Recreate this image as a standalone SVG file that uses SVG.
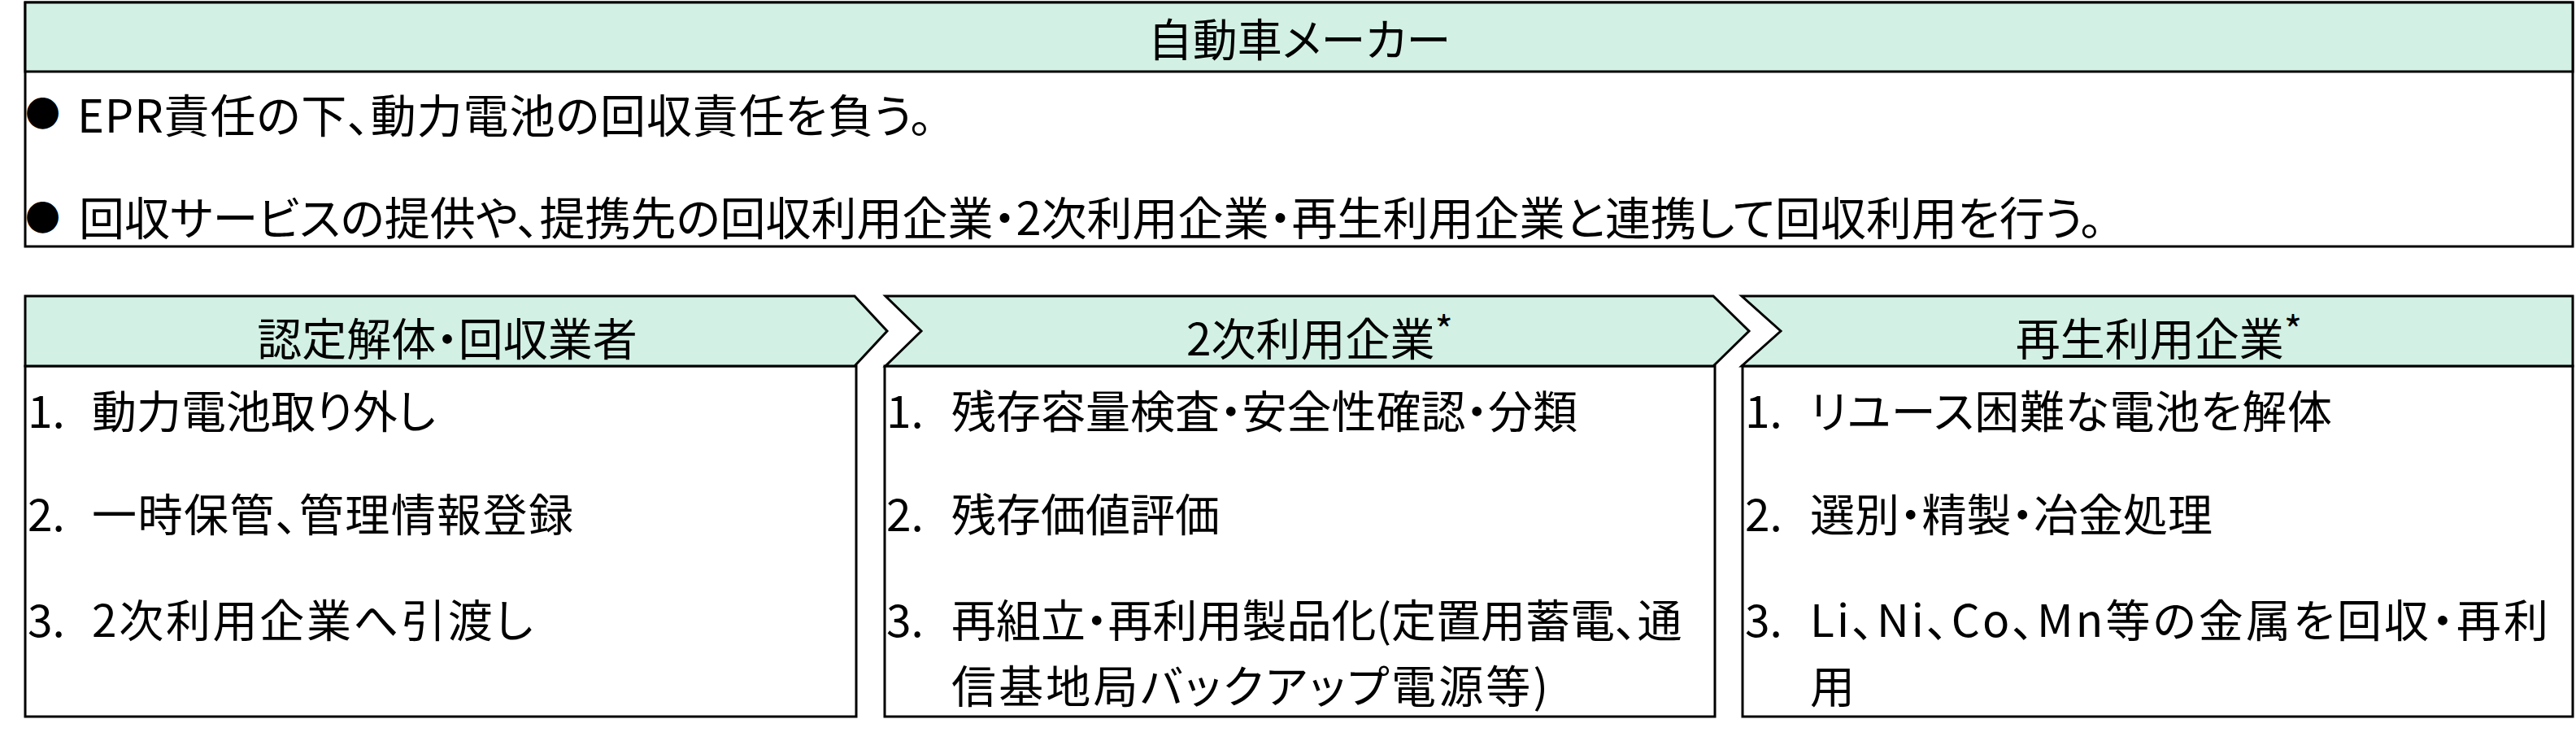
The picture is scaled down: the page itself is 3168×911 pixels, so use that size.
<svg xmlns="http://www.w3.org/2000/svg" width="3168" height="911" viewBox="0 0 3168 911">
<style>
  .box { fill: #ffffff; stroke: #000000; stroke-width: 3; }
  .head { fill: #d2f0e4; stroke: #000000; stroke-width: 3; stroke-linejoin: miter; }
  text { font-family: "Noto Sans CJK JP", "Noto Sans", sans-serif; fill: #000000; font-feature-settings: "palt"; }
  .t { font-size: 55px; }
  .h { font-size: 55px; text-anchor: middle; }
  .top { font-size: 56px; }
  .bul { font-size: 43px; }
  .ast { font-size: 48px; }
</style>
<rect width="3168" height="911" fill="#ffffff"/>
<g id="connectors"></g>
<g id="maker">
  <rect class="box" x="31" y="3" width="3133" height="300"/>
  <rect class="head" x="31" y="3" width="3133" height="85"/>
  <text class="h" x="1598" y="69">自動車メーカー</text>
  <text class="bul" x="31" y="156">●</text>
  <text class="top" x="95" y="163" textLength="1052" lengthAdjust="spacing">EPR責任の下、動力電池の回収責任を負う。</text>
  <text class="bul" x="31" y="284">●</text>
  <text class="top" x="97" y="289">回収サービスの提供や、提携先の回収利用企業・2次利用企業・再生利用企業と連携して回収利用を行う。</text>
</g>
<g id="dismantler">
  <rect class="box" x="31" y="450" width="1022" height="431"/>
  <polygon class="head" points="31,364 1051,364 1091,407 1051,450 31,450"/>
  <text class="h" x="550" y="437">認定解体・回収業者</text>
  <text class="t" x="34" y="526">1.</text>
  <text class="t" x="113" y="526">動力電池取り外し</text>
  <text class="t" x="34" y="653">2.</text>
  <text class="t" x="113" y="653" textLength="592" lengthAdjust="spacing">一時保管、管理情報登録</text>
  <text class="t" x="34" y="783">3.</text>
  <text class="t" x="113" y="783" textLength="542" lengthAdjust="spacing">2次利用企業へ引渡し</text>
</g>
<g id="secondary">
  <rect class="box" x="1088" y="450" width="1021" height="431"/>
  <polygon class="head" points="1089,364 2107,364 2151,407 2107,450 1089,450 1133,407"/>
  <text class="h" x="1623" y="437">2次利用企業<tspan class="ast" dy="-13">*</tspan></text>
  <text class="t" x="1090" y="526">1.</text>
  <text class="t" x="1170" y="526">残存容量検査・安全性確認・分類</text>
  <text class="t" x="1090" y="653">2.</text>
  <text class="t" x="1170" y="653">残存価値評価</text>
  <text class="t" x="1090" y="783">3.</text>
  <text class="t" x="1170" y="783">再組立・再利用製品化(定置用蓄電、通</text>
  <text class="t" x="1170" y="864" textLength="734" lengthAdjust="spacing">信基地局バックアップ電源等)</text>
</g>
<g id="recycler">
  <rect class="box" x="2143" y="450" width="1021" height="431"/>
  <polygon class="head" points="2142,364 3164,364 3164,450 2142,450 2190,407"/>
  <text class="h" x="2655" y="437">再生利用企業<tspan class="ast" dy="-13">*</tspan></text>
  <text class="t" x="2146" y="526">1.</text>
  <text class="t" x="2226" y="526" textLength="642" lengthAdjust="spacing">リユース困難な電池を解体</text>
  <text class="t" x="2146" y="653">2.</text>
  <text class="t" x="2226" y="653">選別・精製・冶金処理</text>
  <text class="t" x="2146" y="783">3.</text>
  <text class="t" x="2226" y="783" textLength="908" lengthAdjust="spacing">Li、Ni、Co、Mn等の金属を回収・再利</text>
  <text class="t" x="2226" y="864">用</text>
</g>
</svg>
